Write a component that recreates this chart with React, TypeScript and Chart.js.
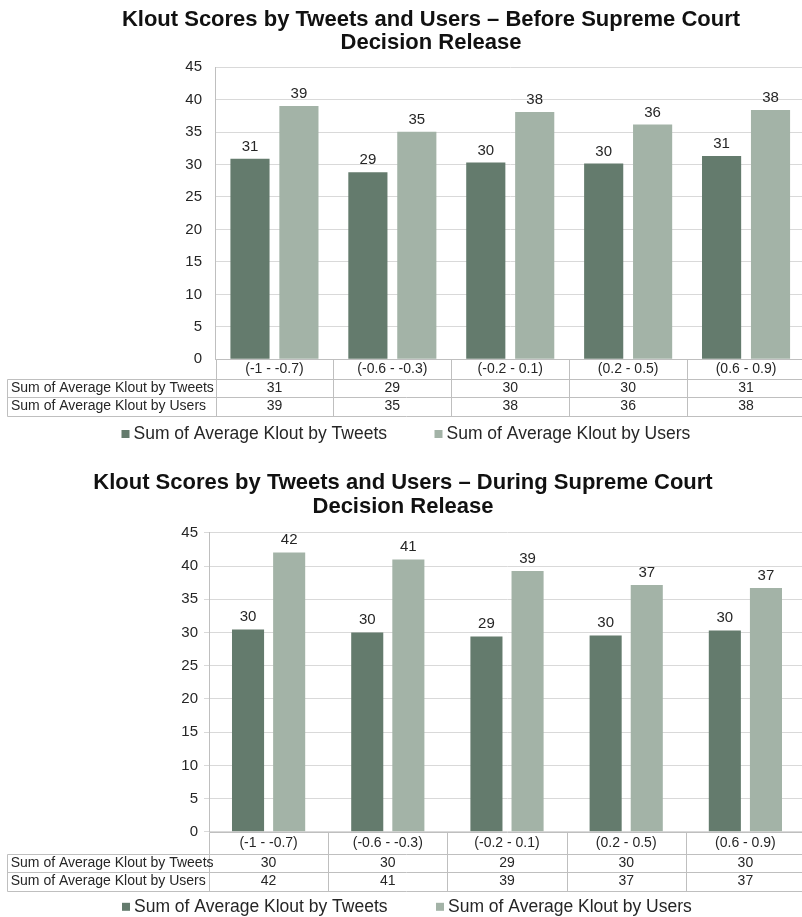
import React, { useEffect, useRef } from 'react';
import Chart from 'chart.js/auto';

const categories = ['(-1 - -0.7)', '(-0.6 - -0.3)', '(-0.2 - 0.1)', '(0.2 - 0.5)', '(0.6 - 0.9)'];
const seriesNames = ['Sum of Average Klout by Tweets', 'Sum of Average Klout by Users'];

const beforeTweets = [30.9, 28.8, 30.3, 30.15, 31.3];
const beforeUsers = [39.0, 35.05, 38.1, 36.15, 38.4];
const duringTweets = [30.45, 30.0, 29.4, 29.55, 30.3];
const duringUsers = [42.05, 41.0, 39.25, 37.15, 36.7];

const beforeTitle = ['Klout Scores by Tweets and Users – Before Supreme Court', 'Decision Release'];
const duringTitle = ['Klout Scores by Tweets and Users – During Supreme Court', 'Decision Release'];

const yMax = 45;
const yStep = 5;

const FONT = "'Liberation Sans', Arial, Helvetica, sans-serif";
const TEXT = '#262626';
const DARK = '#647b6d';
const LIGHT = '#a3b3a7';
const GRID = '#d9d9d9';
const RULE = '#bfbfbf';

interface Panel {
  title: string[];
  tweets: number[];
  users: number[];
  height: number;
  chartBottom: number;
  padLeft: number;
  axisWidth: number;
  titleTop: number;
  titleBottom: number;
  tickLength: number;
  tickPad: number;
  rows: number[];
  catPct: number;
  barPct: number;
  tableLeft: number;
  legendGap: number;
  legendX: number[];
}

const panels: Panel[] = [
  {
    title: beforeTitle, tweets: beforeTweets, users: beforeUsers,
    height: 455, chartBottom: 359.3, padLeft: 57, axisWidth: 158.5, titleTop: 8, titleBottom: 12,
    tickLength: 0, tickPad: 13.5, rows: [20, 18, 18.4], catPct: 0.83, barPct: 0.8,
    tableLeft: 7, legendGap: 18.3, legendX: [121.5, 434.5],
  },
  {
    title: duringTitle, tweets: duringTweets, users: duringUsers,
    height: 462, chartBottom: 376.8, padLeft: 1, axisWidth: 208, titleTop: 16.25, titleBottom: 14.5,
    tickLength: 5, tickPad: 6, rows: [22, 18.3, 18.4], catPct: 0.69, barPct: 0.78,
    tableLeft: 6.7, legendGap: 16.3, legendX: [122, 436],
  },
];

// value labels, data table under the axis and the legend
const tablePlugin = (p: Panel) => ({
  id: 'dataTable',
  afterDatasetsDraw(chart: any) {
    const { ctx } = chart;
    ctx.save();
    ctx.font = `15px ${FONT}`;
    ctx.fillStyle = TEXT;
    ctx.textAlign = 'center';
    ctx.textBaseline = 'alphabetic';
    chart.data.datasets.forEach((ds: any, di: number) => {
      chart.getDatasetMeta(di).data.forEach((bar: any, i: number) => {
        ctx.fillText(String(Math.round(ds.data[i])), bar.x, bar.y - 8);
      });
    });
    ctx.restore();
  },
  afterDraw(chart: any) {
    const { ctx, chartArea } = chart;
    const x = chart.scales.x;
    const n = chart.data.labels.length;
    const cw = (x.right - x.left) / n;
    const top = chartArea.bottom;
    const ys = [top, top + p.rows[0], top + p.rows[0] + p.rows[1], top + p.rows[0] + p.rows[1] + p.rows[2]];
    const r = (v: number) => Math.round(v) + 0.5;
    const line = (x1: number, y1: number, x2: number, y2: number) => {
      ctx.beginPath();
      ctx.moveTo(r(x1), r(y1));
      ctx.lineTo(r(x2), r(y2));
      ctx.stroke();
    };
    ctx.save();
    ctx.strokeStyle = RULE;
    ctx.lineWidth = 1;
    line(x.left, ys[0], x.right, ys[0]);
    for (let k = 1; k < 4; k++) line(p.tableLeft, ys[k], x.right, ys[k]);
    line(p.tableLeft, ys[1], p.tableLeft, ys[3]);
    for (let i = 0; i <= n; i++) line(x.left + i * cw, ys[0], x.left + i * cw, ys[3]);

    ctx.fillStyle = TEXT;
    ctx.font = `14px ${FONT}`;
    ctx.textBaseline = 'middle';
    chart.data.datasets.forEach((ds: any, di: number) => {
      const cy = (ys[di + 1] + ys[di + 2]) / 2;
      ctx.textAlign = 'left';
      ctx.fillText(ds.label, p.tableLeft + 4, cy);
      ctx.textAlign = 'center';
      ds.data.forEach((v: number, i: number) => {
        ctx.fillText(String(Math.round(v)), x.getPixelForValue(i), cy);
      });
    });

    const ly = ys[3] + p.legendGap;
    ctx.font = `17.5px ${FONT}`;
    ctx.textAlign = 'left';
    chart.data.datasets.forEach((ds: any, di: number) => {
      const lx = p.legendX[di];
      ctx.fillStyle = ds.backgroundColor;
      ctx.fillRect(lx, ly - 4, 8, 8);
      ctx.fillStyle = TEXT;
      ctx.fillText(ds.label, lx + 12, ly);
    });
    ctx.restore();
  },
});

const KloutChart: React.FC<{ panel: Panel }> = ({ panel }) => {
  const canvasRef = useRef<HTMLCanvasElement>(null);
  const chartInstance = useRef<Chart | null>(null);

  useEffect(() => {
    if (!canvasRef.current) return;
    const p = panel;
    const tableHeight = p.rows[0] + p.rows[1] + p.rows[2];
    chartInstance.current = new Chart(canvasRef.current, {
      type: 'bar',
      data: {
        labels: categories,
        datasets: [
          { label: seriesNames[0], data: p.tweets, backgroundColor: DARK, categoryPercentage: p.catPct, barPercentage: p.barPct },
          { label: seriesNames[1], data: p.users, backgroundColor: LIGHT, categoryPercentage: p.catPct, barPercentage: p.barPct },
        ],
      },
      options: {
        responsive: false,
        animation: false,
        layout: { padding: { left: p.padLeft, right: 1, top: 0, bottom: p.height - p.chartBottom - tableHeight } },
        plugins: {
          legend: { display: false },
          tooltip: { enabled: false },
          title: {
            display: true,
            text: p.title,
            color: '#111',
            font: { family: FONT, size: 22, weight: 'bold', lineHeight: 1.07 },
            padding: { top: p.titleTop, bottom: p.titleBottom },
          },
        },
        scales: {
          x: {
            grid: { display: false, drawTicks: false },
            border: { display: false },
            ticks: { color: TEXT, font: { family: FONT, size: 14, lineHeight: 1 }, padding: p.rows[0] / 2 - 7, maxRotation: 0, autoSkip: false },
            afterFit: (s: any) => { s.height = tableHeight; },
          },
          y: {
            min: 0,
            max: yMax,
            grid: { color: GRID, drawTicks: p.tickLength > 0, tickLength: p.tickLength },
            border: { display: true, color: RULE },
            ticks: { stepSize: yStep, color: TEXT, font: { family: FONT, size: 15 }, padding: p.tickPad },
            afterFit: (s: any) => { s.width = p.axisWidth; },
          },
        },
      },
      plugins: [tablePlugin(p)],
    } as any);
    return () => {
      if (chartInstance.current) chartInstance.current.destroy();
    };
  }, [panel]);

  return <canvas ref={canvasRef} width={806} height={panel.height} style={{ display: 'block' }} />;
};

const App: React.FC = () => {
  useEffect(() => {
    document.body.style.margin = '0';
  }, []);
  return (
    <div style={{ width: 802, overflow: 'hidden', background: '#fff' }}>
      {panels.map((p, i) => <KloutChart key={i} panel={p} />)}
    </div>
  );
};

export default App;
